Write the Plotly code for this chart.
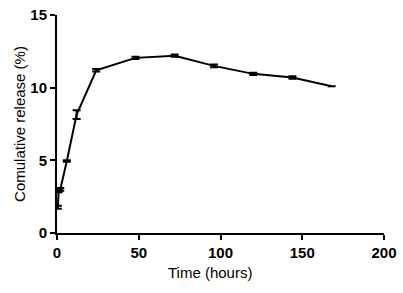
import plotly.graph_objects as go

time_h = [0.5, 1, 2, 6, 12, 24, 48, 72, 96, 120, 144, 168]
release = [1.77, 2.9, 3.0, 4.95, 8.15, 11.2, 12.05, 12.2, 11.5, 10.95, 10.7, 10.1]
err = [0.1, 0.1, 0.1, 0.05, 0.3, 0.08, 0.08, 0.08, 0.1, 0.08, 0.08, 0.0]

fig = go.Figure()
fig.add_trace(go.Scatter(
    x=time_h, y=release, mode="lines",
    line=dict(color="black", width=2),
    error_y=dict(type="data", array=err, visible=True, color="black",
                 thickness=2, width=4),
    showlegend=False,
))

font_family = "Liberation Sans, Arial, sans-serif"
fig.update_layout(
    width=403, height=293,
    margin=dict(l=57, r=19, t=15, b=60, autoexpand=False),
    paper_bgcolor="white", plot_bgcolor="white",
    font=dict(family=font_family, color="black"),
    xaxis=dict(
        range=[0, 200], tickvals=[0, 50, 100, 150, 200],
        showline=True, linewidth=2, linecolor="black",
        ticks="outside", ticklen=5, tickwidth=2, tickcolor="black",
        showgrid=False, zeroline=False, automargin=False,
        ticklabeloverflow="allow",
        tickfont=dict(size=15, family="Liberation Sans, Arial", weight="bold"),
    ),
    yaxis=dict(
        range=[0, 15], tickvals=[0, 5, 10, 15],
        showline=True, linewidth=2, linecolor="black",
        ticks="outside", ticklen=5, tickwidth=2, tickcolor="black",
        showgrid=False, zeroline=False, automargin=False,
        ticklabeloverflow="allow",
        tickfont=dict(size=15, family="Liberation Sans, Arial", weight="bold"),
        title=dict(text="Comulative release (%)", font=dict(size=15), standoff=1),
    ),
    annotations=[dict(
        text="Time (hours)", xref="paper", yref="paper", x=0.468, y=0,
        xanchor="center", yanchor="middle", yshift=-39, showarrow=False,
        font=dict(size=15),
    )],
)
fig.write_html(
    "out.html",
    config={"displayModeBar": False},
    post_script="document.body.style.margin='0';document.body.style.overflow='hidden';",
)
